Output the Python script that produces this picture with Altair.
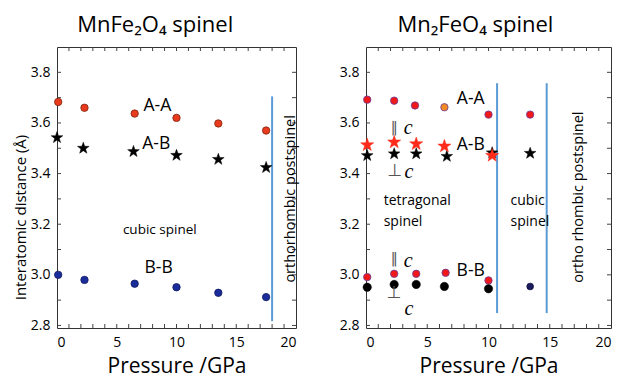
import altair as alt
import pandas as pd

FONT = "Open Sans"
STAR = ("M0,-1L0.235,-0.324L0.951,-0.309L0.380,0.124L0.588,0.809L0,0.4"
        "L-0.588,0.809L-0.380,0.124L-0.951,-0.309L-0.235,-0.324Z")

# ---------------- Left panel: MnFe2O4 ----------------
L_AA_P = [0.1, 2.3, 6.5, 10.0, 13.5, 17.5]
L_AA = [3.683, 3.660, 3.637, 3.620, 3.598, 3.570]
L_AB_P = [0.0, 2.2, 6.4, 10.0, 13.5, 17.5]
L_AB = [3.542, 3.500, 3.487, 3.472, 3.456, 3.424]
L_BB_P = [0.1, 2.3, 6.5, 10.0, 13.5, 17.5]
L_BB = [3.000, 2.980, 2.965, 2.951, 2.929, 2.912]
L_BOUND_P = [18.0]
L_BOUND_LO, L_BOUND_HI = [2.817], [3.705]

# ---------------- Right panel: Mn2FeO4 ----------------
R_AA_P = [0.1, 2.3, 4.0, 10.0, 13.4]
R_AA = [3.692, 3.688, 3.669, 3.633, 3.633]
R_AA_OR_P = [6.4]
R_AA_OR = [3.662]
R_ABpar_P = [0.1, 2.3, 4.1, 6.4, 10.3]
R_ABpar = [3.513, 3.524, 3.517, 3.508, 3.471]
R_ABperp_P = [0.1, 2.3, 4.1, 6.6, 10.3, 13.4]
R_ABperp = [3.471, 3.478, 3.478, 3.468, 3.482, 3.480]
R_BBpar_P = [0.1, 2.3, 4.1, 6.5, 10.0]
R_BBpar = [2.991, 3.004, 3.004, 3.008, 2.978]
R_BBperp_P = [0.1, 2.3, 4.1, 6.4, 10.0]
R_BBperp = [2.951, 2.962, 2.962, 2.954, 2.945]
R_BBcub_P = [13.4]
R_BBcub = [2.954]
R_BOUND_P = [10.7, 14.75]
R_BOUND_LO, R_BOUND_HI = [2.849, 2.849], [3.757, 3.757]

# axes / ticks
X_LABELS = [0, 5, 10, 15, 20]
Y_LABELS = [2.8, 3.0, 3.2, 3.4, 3.6, 3.8]
X_MINOR = list(range(1, 20))
Y_MINOR = [2.8, 2.9, 3.0, 3.1, 3.2, 3.3, 3.4, 3.5, 3.6, 3.7, 3.8]

H = 281
XS = alt.Scale(domain=[0, 20], nice=False, zero=False)
YS = alt.Scale(domain=[2.79, 3.9], nice=False, zero=False)


def enc_x():
    return alt.X("P:Q", scale=XS, axis=alt.Axis(values=X_LABELS, title="Pressure  /GPa"))


def enc_y(title):
    if title:
        ax = alt.Axis(values=Y_LABELS, format=".1f", title=title, titleY=170)
    else:
        ax = alt.Axis(values=Y_LABELS, format=".1f", title=None)
    return alt.Y("V:Q", scale=YS, axis=ax)


def pts(P, V, shape, size, fill, stroke, sw, ytitle):
    df = pd.DataFrame({"P": P, "V": V})
    return alt.Chart(df).mark_point(shape=shape, filled=True, size=size, fill=fill,
                                    stroke=stroke, strokeWidth=sw, opacity=1).encode(
        x=enc_x(), y=enc_y(ytitle))


def txt(P, V, labels, ytitle, size=17.5, angle=0, align="center", font=FONT, style="normal",
        color="black"):
    df = pd.DataFrame({"P": P, "V": V, "t": labels})
    kw = dict(fontSize=size, font=font, align=align, baseline="middle", color=color,
              fontStyle=style)
    if angle:
        kw["angle"] = angle
    return alt.Chart(df).mark_text(**kw).encode(x=enc_x(), y=enc_y(ytitle), text="t:N")


def bounds(P, lo, hi, ytitle):
    df = pd.DataFrame({"P": P, "V": lo, "V2": hi})
    return alt.Chart(df).mark_rule(color="#5b9bd5", strokeWidth=2).encode(
        x=enc_x(), y=enc_y(ytitle), y2="V2:Q")


def ticks(W, ytitle):
    dx = pd.DataFrame({"P": X_MINOR})
    dy = pd.DataFrame({"V": Y_MINOR})
    c = "#444444"
    return [
        alt.Chart(dx).mark_rule(color=c).encode(x=enc_x(), y=alt.value(H), y2=alt.value(H - 4)),
        alt.Chart(dx).mark_rule(color=c).encode(x=enc_x(), y=alt.value(0), y2=alt.value(4)),
        alt.Chart(dy).mark_rule(color=c).encode(y=enc_y(ytitle), x=alt.value(0), x2=alt.value(4)),
        alt.Chart(dy).mark_rule(color=c).encode(y=enc_y(ytitle), x=alt.value(W), x2=alt.value(W - 4)),
    ]


def title(t):
    return alt.TitleParams(t, fontSize=22, fontWeight="normal", font=FONT, anchor="middle",
                           frame="bounds", offset=10, color="black")


# ---- left ----
WL = 239
YT = "Interatomic distance  (Å)"
left = alt.layer(
    *ticks(WL, YT),
    bounds(L_BOUND_P, L_BOUND_LO, L_BOUND_HI, YT),
    pts(L_AA_P, L_AA, "circle", 55, "#ea3a1e", "#7a2412", 0.8, YT),
    pts(L_AB_P, L_AB, STAR, 150, "black", "black", 0.5, YT),
    pts(L_BB_P, L_BB, "circle", 55, "#1a2c9a", "#101a60", 0.8, YT),
    txt([8.4, 8.3, 8.5], [3.667, 3.515, 3.027], ["A-A", "A-B", "B-B"], YT),
    txt([8.6], [3.177], ["cubic spinel"], YT, size=13.5),
    txt([19.55], [3.30], ["orthorhombic    postspinel"], YT, size=14.5, angle=270),
).properties(width=WL, height=H, title=title("MnFe₂O₄ spinel"))

# ---- right ----
WR = 245
right = alt.layer(
    *ticks(WR, None),
    bounds(R_BOUND_P, R_BOUND_LO, R_BOUND_HI, None),
    pts(R_AA_P, R_AA, "circle", 55, "#f01818", "#6a3a9a", 0.8, None),
    pts(R_AA_OR_P, R_AA_OR, "circle", 55, "#f08a24", "#6a3a9a", 0.8, None),
    pts(R_ABperp_P, R_ABperp, STAR, 150, "black", "black", 0.5, None),
    pts(R_ABpar_P, R_ABpar, STAR, 190, "#ff2a1a", "#ff2a1a", 0.5, None),
    pts(R_BBpar_P, R_BBpar, "circle", 55, "#f01818", "#6a3a9a", 0.8, None),
    pts(R_BBperp_P, R_BBperp, "circle", 70, "black", "black", 0.5, None),
    pts(R_BBcub_P, R_BBcub, "circle", 45, "#1a1a5e", "#101040", 0.8, None),
    txt([8.55, 8.55, 8.55], [3.695, 3.513, 3.017], ["A-A", "A-B", "B-B"], None),
    txt([2.3, 2.3], [3.582, 3.063], ["‖", "‖"], None, size=14, font="DejaVu Sans",
        color="#555555"),
    txt([3.45, 3.45], [3.579, 3.054], ["c", "c"], None, size=20, font="Liberation Serif",
        style="italic"),
    txt([2.35, 2.3], [3.41, 2.93], ["⊥", "⊥"], None, size=17, font="DejaVu Sans",
        color="#555555"),
    txt([3.5, 3.5], [3.405, 2.867], ["c", "c"], None, size=20, font="Liberation Serif",
        style="italic"),
    txt([1.44, 1.44], [3.292, 3.21], ["tetragonal", "spinel"], None, size=14, align="left"),
    txt([11.8, 11.8], [3.292, 3.21], ["cubic", "spinel"], None, size=14, align="left"),
    txt([17.4], [3.307], ["ortho rhombic postspinel"], None, size=14.5, angle=270),
).properties(width=WR, height=H, title=title("Mn₂FeO₄ spinel"))

chart = alt.hconcat(left, right, spacing=40).properties(
    padding={"left": 4, "top": 5, "right": 0, "bottom": 0}
).configure_view(
    stroke="#333333", strokeWidth=1
).configure_axis(
    domain=False, ticks=False, grid=False, labelFontSize=14, labelFont=FONT,
    labelColor="black", labelPadding=7, titleFont=FONT, titleFontSize=21,
    titleFontWeight="normal", titleColor="black"
).configure_axisY(titleFontSize=15, titlePadding=2).configure_axisX(titlePadding=6)

chart.save("out.html", embed_options={"renderer": "svg", "actions": False})
